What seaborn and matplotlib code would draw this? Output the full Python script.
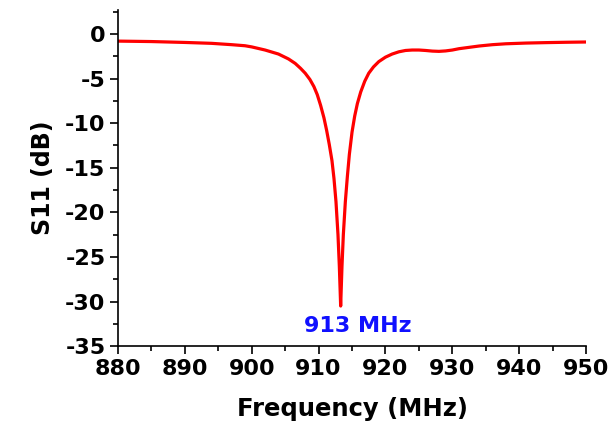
import matplotlib
matplotlib.use("Agg")
import matplotlib.pyplot as plt
from matplotlib.ticker import MultipleLocator
import pandas as pd
import seaborn as sns

# Measured reflection coefficient of the antenna
freq_mhz = [880, 885, 890, 894, 897, 899, 900, 902, 904, 905.5, 906.5, 907.3,
            908, 908.7, 909.3, 909.8, 910.3, 910.8, 911.2, 911.6, 912, 912.3,
            912.6, 912.9, 913.1, 913.3, 913.5, 913.7, 914.0, 914.3, 914.6,
            915, 915.4, 915.8, 916.3, 916.9, 917.5, 918.2, 919, 920, 921, 922,
            923, 924, 925, 926, 927, 928, 929, 930, 931, 932.5, 934, 936, 938,
            941, 944, 947, 950]
s11_db = [-0.8, -0.85, -0.95, -1.05, -1.2, -1.32, -1.45, -1.8, -2.25, -2.8,
          -3.3, -3.85, -4.4, -5.1, -5.9, -6.8, -8.0, -9.4, -10.8, -12.4,
          -14.2, -16.2, -18.8, -22.5, -26.0, -30.5, -26.0, -22.5, -18.8,
          -16.0, -13.5, -11.0, -9.2, -7.8, -6.5, -5.3, -4.4, -3.7, -3.1,
          -2.6, -2.25, -2.0, -1.85, -1.8, -1.8, -1.85, -1.92, -1.95, -1.9,
          -1.8, -1.65, -1.5, -1.35, -1.2, -1.1, -1.02, -0.97, -0.93, -0.9]
resonance_label = "913 MHz"
x_ticks = [880, 890, 900, 910, 920, 930, 940, 950]
y_ticks = [0, -5, -10, -15, -20, -25, -30, -35]

sns.set_style("ticks")
plt.rcParams["font.family"] = ["DejaVu Sans"]
plt.rcParams["font.weight"] = "bold"
plt.rcParams["axes.unicode_minus"] = False

df = pd.DataFrame({"Frequency": freq_mhz, "S11": s11_db})

fig = plt.figure(figsize=(6.08, 4.30), dpi=100)
ax = fig.add_axes([0.194, 0.195, 0.770, 0.782])

sns.lineplot(data=df, x="Frequency", y="S11", color="#ff0000", linewidth=2.3,
             ax=ax, legend=False)

ax.set_xlim(880, 950)
ax.set_ylim(-35, 2.7)
ax.set_xticks(x_ticks)
ax.set_yticks(y_ticks)
ax.xaxis.set_minor_locator(MultipleLocator(5))
ax.yaxis.set_minor_locator(MultipleLocator(2.5))

for side in ("top", "right"):
    ax.spines[side].set_visible(False)
for side in ("left", "bottom"):
    ax.spines[side].set_linewidth(1.2)
    ax.spines[side].set_color("black")

ax.tick_params(which="major", direction="out", length=6, width=1.2,
               labelsize=16, pad=3, colors="black")
ax.tick_params(which="minor", direction="out", length=3.5, width=1.2,
               colors="black")
for lbl in ax.get_xticklabels() + ax.get_yticklabels():
    lbl.set_fontweight("bold")

ax.set_xlabel("Frequency (MHz)", fontsize=17.5, fontweight="bold",
              color="black", labelpad=13)
ax.set_ylabel("S11 (dB)", fontsize=17, fontweight="bold", color="black",
              labelpad=7)

ax.text(915.8, -32.7, resonance_label, color="#1010ff", fontsize=16,
        fontweight="bold", ha="center", va="center")

fig.savefig("out.png", dpi=100)
